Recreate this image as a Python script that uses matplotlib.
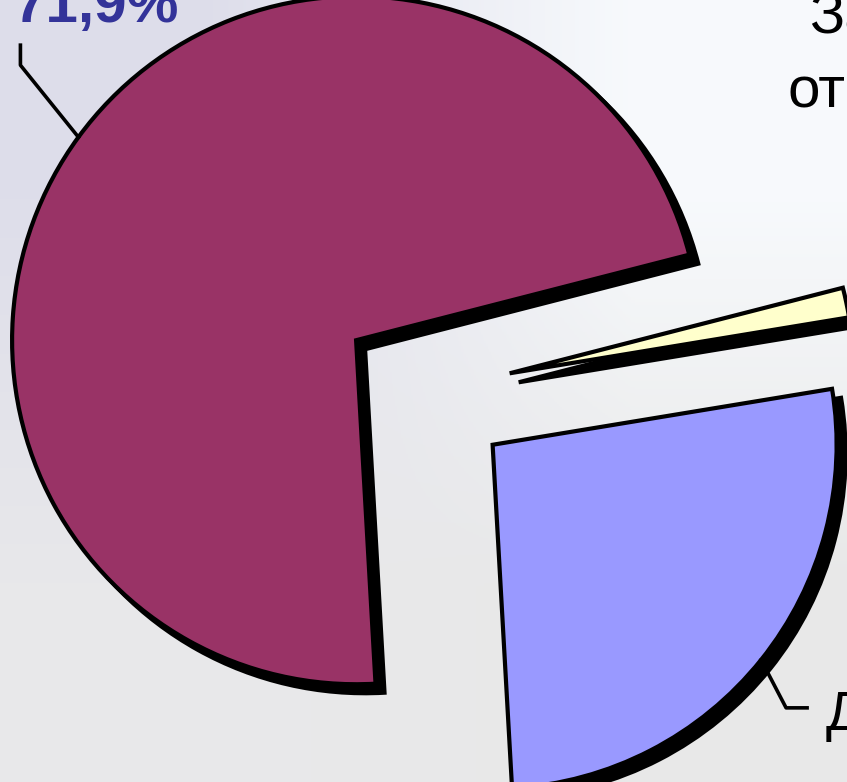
import numpy as np
import matplotlib
matplotlib.use('Agg')
import matplotlib.pyplot as plt

# pie data (shares in %)
shares = [71.9, 26.7, 1.4]
colors = ['#993366', '#9999FF', '#FFFFCC']
label_main = '71,9%'
label_blue = 'Д'
title_1 = 'За'
title_2 = 'от'

W, H = 847, 782
R = 344.0                 # pie radius in pixels
centre = (425.5, H - 391)  # y up
expl = [0.25 * R] * 3
shadow = (9, -9)

plt.rcParams['font.family'] = ['Liberation Sans', 'DejaVu Sans']

fig = plt.figure(figsize=(W / 100, H / 100), dpi=100)
ax = fig.add_axes([0, 0, 1, 1])

# faint slide background
bg = np.array([[[0.87, 0.87, 0.92], [0.97, 0.98, 0.99]],
               [[0.91, 0.91, 0.92], [0.91, 0.91, 0.91]]])
ax.imshow(bg, extent=(0, W, 0, H), interpolation='bilinear', zorder=0, aspect='auto')

# shadow
ax.pie(shares, colors=['black'] * 3, startangle=14.4, explode=expl, radius=R,
       center=(centre[0] + shadow[0], centre[1] + shadow[1]),
       wedgeprops=dict(edgecolor='black', linewidth=3, zorder=2))
wedges, _ = ax.pie(shares, colors=colors, startangle=14.4, explode=expl, radius=R,
                   center=centre,
                   wedgeprops=dict(edgecolor='black', linewidth=3, zorder=3))

ax.set_xlim(0, W)
ax.set_ylim(0, H)
ax.set_aspect('auto')
ax.axis('off')


def arc_mid(w):
    a = np.deg2rad((w.theta1 + w.theta2) / 2)
    cx, cy = w.center
    return cx + w.r * np.cos(a), cy + w.r * np.sin(a)


# leader for the big slice
x0, y0 = arc_mid(wedges[0])
ax.plot([x0, x0 - 58, x0 - 58], [y0, y0 + 72, y0 + 92], color='black', lw=2.6, zorder=4)
ax.text(14, H - 22, label_main, color='#333399', fontsize=42, fontweight='bold',
        ha='left', va='baseline', zorder=5)

# leader for the blue slice
x1, y1 = arc_mid(wedges[1])
ax.plot([x1, x1 + 25, x1 + 46], [y1, y1 - 48, y1 - 48], color='black', lw=2.6, zorder=4)
ax.text(826, H - 730, label_blue, color='black', fontsize=40,
        ha='left', va='baseline', zorder=5)

ax.text(809, H - 33, title_1, color='black', fontsize=42, ha='left', va='baseline', zorder=5)
ax.text(787, H - 107, title_2, color='black', fontsize=42, ha='left', va='baseline', zorder=5)

fig.savefig('out.png', dpi=100)
